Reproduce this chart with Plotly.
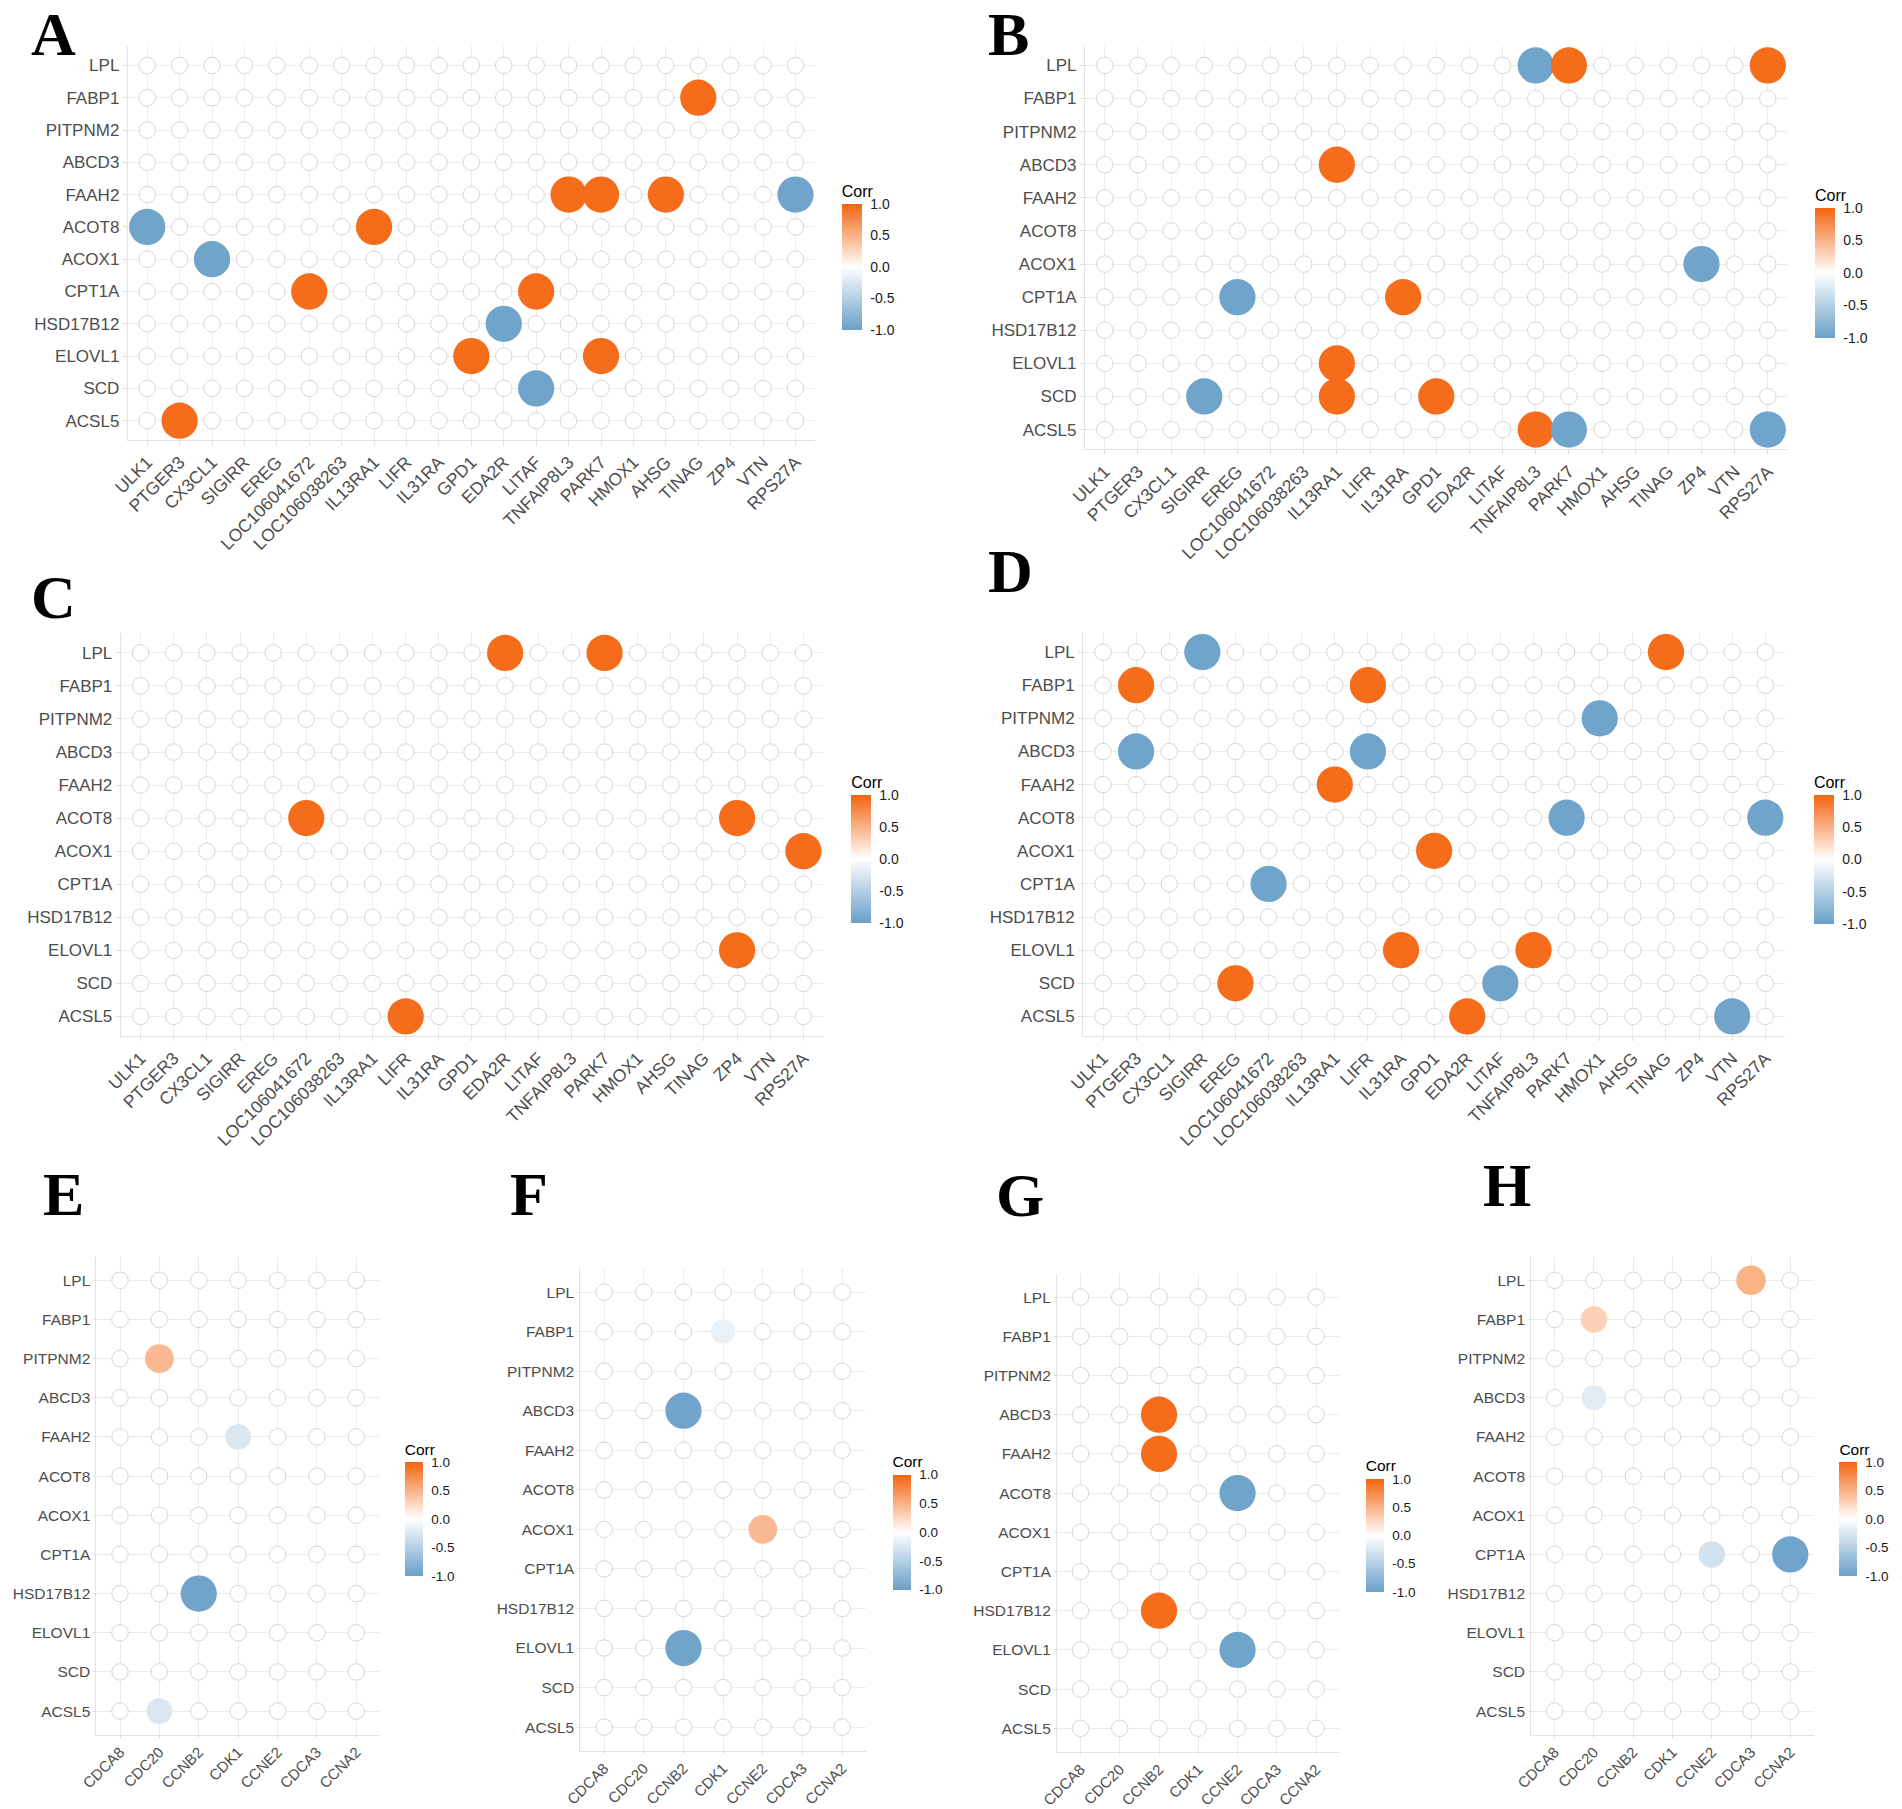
import plotly.graph_objects as go

# ---------------- data ----------------
rows = ["LPL", "FABP1", "PITPNM2", "ABCD3", "FAAH2", "ACOT8", "ACOX1",
        "CPT1A", "HSD17B12", "ELOVL1", "SCD", "ACSL5"]
cols_big = ["ULK1", "PTGER3", "CX3CL1", "SIGIRR", "EREG", "LOC106041672",
            "LOC106038263", "IL13RA1", "LIFR", "IL31RA", "GPD1", "EDA2R",
            "LITAF", "TNFAIP8L3", "PARK7", "HMOX1", "AHSG", "TINAG", "ZP4",
            "VTN", "RPS27A"]
cols_small = ["CDCA8", "CDC20", "CCNB2", "CDK1", "CCNE2", "CDCA3", "CCNA2"]

A_rows = ["FABP1", "FAAH2", "FAAH2", "FAAH2", "FAAH2", "ACOT8", "ACOT8", "ACOX1",
          "CPT1A", "CPT1A", "HSD17B12", "ELOVL1", "ELOVL1", "SCD", "ACSL5"]
A_cols = ["TINAG", "TNFAIP8L3", "PARK7", "AHSG", "RPS27A", "ULK1", "IL13RA1", "CX3CL1",
          "LOC106041672", "LITAF", "EDA2R", "GPD1", "PARK7", "LITAF", "PTGER3"]
A_corr = [0.95, 0.95, 0.95, 0.95, -0.95, -0.95, 0.95, -0.95,
          0.95, 0.95, -0.95, 0.95, 0.95, -0.95, 0.95]

B_rows = ["LPL", "LPL", "LPL", "ABCD3", "ACOX1", "CPT1A", "CPT1A", "ELOVL1",
          "SCD", "SCD", "SCD", "ACSL5", "ACSL5", "ACSL5"]
B_cols = ["TNFAIP8L3", "PARK7", "RPS27A", "IL13RA1", "ZP4", "EREG", "IL31RA", "IL13RA1",
          "SIGIRR", "IL13RA1", "GPD1", "TNFAIP8L3", "PARK7", "RPS27A"]
B_corr = [-0.95, 0.95, 0.95, 0.95, -0.95, -0.95, 0.95, 0.95,
          -0.95, 0.95, 0.95, 0.95, -0.95, -0.95]

C_rows = ["LPL", "LPL", "ACOT8", "ACOT8", "ACOX1", "ELOVL1", "ACSL5"]
C_cols = ["EDA2R", "PARK7", "LOC106041672", "ZP4", "RPS27A", "ZP4", "LIFR"]
C_corr = [0.95, 0.95, 0.95, 0.95, 0.95, 0.95, 0.95]

D_rows = ["LPL", "LPL", "FABP1", "FABP1", "PITPNM2", "ABCD3", "ABCD3", "FAAH2",
          "ACOT8", "ACOT8", "ACOX1", "CPT1A", "ELOVL1", "ELOVL1", "SCD", "SCD",
          "ACSL5", "ACSL5"]
D_cols = ["SIGIRR", "TINAG", "PTGER3", "LIFR", "HMOX1", "PTGER3", "LIFR", "IL13RA1",
          "PARK7", "RPS27A", "GPD1", "LOC106041672", "IL31RA", "TNFAIP8L3", "EREG", "LITAF",
          "EDA2R", "VTN"]
D_corr = [-0.95, 0.95, 0.95, 0.95, -0.95, -0.95, -0.95, 0.95,
          -0.95, -0.95, 0.95, -0.95, 0.95, 0.95, 0.95, -0.95,
          0.95, -0.95]

E_rows = ["PITPNM2", "FAAH2", "HSD17B12", "ACSL5"]
E_cols = ["CDC20", "CDK1", "CCNB2", "CDC20"]
E_corr = [0.45, -0.25, -0.95, -0.25]

F_rows = ["FABP1", "ABCD3", "ACOX1", "ELOVL1"]
F_cols = ["CDK1", "CCNB2", "CCNE2", "CCNB2"]
F_corr = [-0.15, -0.95, 0.45, -0.95]

G_rows = ["ABCD3", "FAAH2", "ACOT8", "HSD17B12", "ELOVL1"]
G_cols = ["CCNB2", "CCNB2", "CCNE2", "CCNB2", "CCNE2"]
G_corr = [0.95, 0.95, -0.95, 0.95, -0.95]

H_rows = ["LPL", "FABP1", "ABCD3", "CPT1A", "CPT1A"]
H_cols = ["CDCA3", "CDC20", "CDC20", "CCNE2", "CCNA2"]
H_corr = [0.5, 0.3, -0.2, -0.3, -0.95]

panel_labels = ["A", "B", "C", "D", "E", "F", "G", "H"]
legend_title = "Corr"
cbar_ticks = [-1.0, -0.5, 0.0, 0.5, 1.0]

# ---------------- layout geometry (pixels) ----------------
W, H = 1902, 1809
BLUE, ORANGE = "#6A9FC8", "#F4640F"
colorscale = [[0.0, BLUE], [0.5, "#FFFFFF"], [1.0, ORANGE]]

# first/last column centre x, first/last row centre y, colourbar (x, top, len, thick),
# letter (x, y-centre)
geom = {
    "A": dict(x0=147.2, x1=795.5, y0=65.4, y1=420.7, cb=(841.7, 181.7, 147.6, 20), let=(29, 34)),
    "B": dict(x0=1104.8, x1=1767.8, y0=65.4, y1=429.6, cb=(1815.0, 185.7, 151.8, 20), let=(986, 34)),
    "C": dict(x0=140.6, x1=803.4, y0=652.9, y1=1016.4, cb=(851.3, 773.2, 150.3, 20), let=(29, 596.6)),
    "D": dict(x0=1103.0, x1=1765.3, y0=652.1, y1=1016.4, cb=(1813.9, 773.0, 150.5, 20), let=(986, 571)),
    "E": dict(x0=120.0, x1=356.3, y0=1280.3, y1=1711.1, cb=(404.7, 1440.0, 135.8, 17.6), let=(41, 1194)),
    "F": dict(x0=604.1, x1=842.2, y0=1292.1, y1=1727.1, cb=(892.5, 1452.6, 136.6, 17.6), let=(508, 1194)),
    "G": dict(x0=1080.5, x1=1316.1, y0=1297.1, y1=1728.3, cb=(1365.8, 1456.8, 135.4, 17.6), let=(993.6, 1194.5)),
    "H": dict(x0=1554.7, x1=1790.3, y0=1280.3, y1=1711.1, cb=(1839.4, 1440.0, 135.8, 17.6), let=(1481, 1184.6)),
}

panel_data = {
    "A": (A_rows, A_cols, A_corr, cols_big),
    "B": (B_rows, B_cols, B_corr, cols_big),
    "C": (C_rows, C_cols, C_corr, cols_big),
    "D": (D_rows, D_cols, D_corr, cols_big),
    "E": (E_rows, E_cols, E_corr, cols_small),
    "F": (F_rows, F_cols, F_corr, cols_small),
    "G": (G_rows, G_cols, G_corr, cols_small),
    "H": (H_rows, H_cols, H_corr, cols_small),
}

FONT = "Liberation Sans, Arial, sans-serif"
fig = go.Figure()
layout = dict(
    width=W, height=H, margin=dict(l=0, r=0, t=0, b=0, pad=0, autoexpand=False),
    paper_bgcolor="white", plot_bgcolor="white", showlegend=False,
    font=dict(family=FONT, color="#4D4D4D"),
)
annotations = []

for i, key in enumerate(panel_labels):
    g = geom[key]
    prow, pcol, pcorr, cols = panel_data[key]
    n, m = len(cols), len(rows)
    big = n > 10
    ppx = (g["x1"] - g["x0"]) / (n - 1)
    ppy = (g["y1"] - g["y0"]) / (m - 1)
    left, right = g["x0"] - 0.6 * ppx, g["x1"] + 0.6 * ppx
    top, bottom = g["y0"] - 0.6 * ppy, g["y1"] + 0.6 * ppy
    sfx = "" if i == 0 else str(i + 1)
    xa, ya = "x" + sfx, "y" + sfx
    ca = "coloraxis" + sfx

    # background grid of hollow circles
    gx = [c for r in rows for c in cols]
    gy = [r for r in rows for c in cols]
    fig.add_trace(go.Scatter(
        x=gx, y=gy, mode="markers", xaxis=xa, yaxis=ya, hoverinfo="skip",
        marker=dict(size=16.5, color="white", line=dict(color="#D6D6D6", width=1)),
    ))
    # significant correlations
    fig.add_trace(go.Scatter(
        x=pcol, y=prow, mode="markers", xaxis=xa, yaxis=ya,
        marker=dict(size=[22 + 15 * abs(v) for v in pcorr], color=pcorr,
                    coloraxis=ca, line=dict(width=0), opacity=1),
    ))

    tfs_y = 17 if big else 15.5
    tfs_x = 17.5 if big else 15
    axis_common = dict(
        type="category", showgrid=True, gridcolor="#EBEBEB", gridwidth=1,
        zeroline=False, showline=True, linecolor="#E2E2E2", linewidth=1,
        ticks="outside", ticklen=4 if big else 2, tickcolor="#DDDDDD", fixedrange=True,
        automargin=False,
    )
    layout["xaxis" + sfx] = dict(
        axis_common, domain=[left / W, right / W], anchor=ya,
        categoryorder="array", categoryarray=cols, range=[-0.6, n - 0.4],
        tickangle=-45, tickfont=dict(size=tfs_x, color="#4D4D4D", family=FONT),
    )
    layout["yaxis" + sfx] = dict(
        axis_common, domain=[1 - bottom / H, 1 - top / H], anchor=xa,
        categoryorder="array", categoryarray=rows[::-1], range=[-0.6, m - 0.4],
        tickfont=dict(size=tfs_y, color="#4D4D4D", family=FONT),
    )
    cbx, cbtop, cblen, cbth = g["cb"]
    layout[ca] = dict(
        colorscale=colorscale, cmin=-1, cmax=1,
        colorbar=dict(
            x=cbx / W, xanchor="left", y=1 - cbtop / H, yanchor="top",
            len=cblen, lenmode="pixels", thickness=cbth, thicknessmode="pixels",
            xpad=0, ypad=0, outlinewidth=0,
            tickvals=cbar_ticks, ticktext=["%.1f" % t for t in cbar_ticks],
            ticks="outside", ticklen=6, tickcolor="rgba(0,0,0,0)",
            tickfont=dict(size=14 if big else 13.5, color="#1A1A1A", family=FONT),
            title=dict(text=legend_title, side="top",
                       font=dict(size=16 if big else 15.5, color="#000000", family=FONT)),
        ),
    )
    lx, ly = g["let"]
    annotations.append(dict(
        text="<b>%s</b>" % key, xref="paper", yref="paper", x=lx / W, y=1 - ly / H,
        xanchor="left", yanchor="middle", showarrow=False,
        font=dict(family="Liberation Serif, Times New Roman, serif", size=62, color="#000000"),
    ))

layout["annotations"] = annotations
fig.update_layout(**layout)
fig.write_html("out.html", config={"displayModeBar": False},
               post_script="document.body.style.margin='0';")
